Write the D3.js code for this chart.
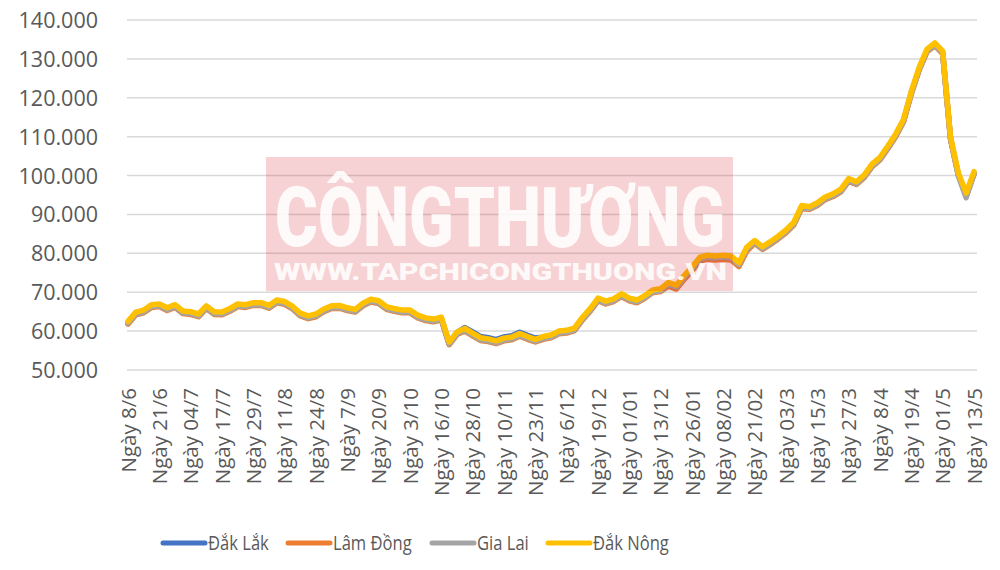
<!DOCTYPE html>
<html>
<head>
<meta charset="utf-8">
<script src="https://cdn.jsdelivr.net/npm/d3@7/dist/d3.min.js"></script>
<style>
  html, body { margin: 0; padding: 0; background: #fff; }
  svg { display: block; }
</style>
</head>
<body>
<svg id="chart" width="1000" height="570"></svg>
<script>
// ---- DATA (values in thousand VND / kg) ----
const xLabels = ["Ngày 8/6","Ngày 21/6","Ngày 04/7","Ngày 17/7","Ngày 29/7","Ngày 11/8","Ngày 24/8","Ngày 7/9","Ngày 20/9","Ngày 3/10","Ngày 16/10","Ngày 28/10","Ngày 10/11","Ngày 23/11","Ngày 6/12","Ngày 19/12","Ngày 01/01","Ngày 13/12","Ngày 26/01","Ngày 08/02","Ngày 21/02","Ngày 03/3","Ngày 15/3","Ngày 27/3","Ngày 8/4","Ngày 19/4","Ngày 01/5","Ngày 13/5"];
const yTicks = [50, 60, 70, 80, 90, 100, 110, 120, 130, 140];
const yTickLabels = ["50.000","60.000","70.000","80.000","90.000","100.000","110.000","120.000","130.000","140.000"];
const seriesNames = ["Đắk Lắk", "Lâm Đồng", "Gia Lai", "Đắk Nông"];

const dakLak = [
  62.1, 64.5, 65.0, 66.4, 66.6, 65.6, 66.4, 64.8, 64.6, 64.0,
  66.1, 64.6, 64.5, 65.4, 66.6, 66.4, 66.9, 66.9, 66.2, 67.6,
  67.2, 66.0, 64.2, 63.5, 64.0, 65.3, 66.1, 66.2, 65.6, 65.2,
  66.8, 67.8, 67.4, 65.9, 65.4, 65.0, 65.0, 63.7, 63.0, 62.7,
  63.2, 56.8, 59.6, 60.9, 59.8, 58.6, 58.3, 57.8, 58.5, 58.8,
  59.7, 58.9, 58.2, 58.4, 58.7, 59.6, 59.8, 60.4, 63.1, 65.4,
  68.1, 67.3, 67.9, 69.2, 68.1, 67.6, 68.8, 70.2, 70.5, 72.1,
  71.4, 73.9, 76.1, 78.6, 79.1, 78.9, 79.1, 78.9, 77.2, 81.2,
  82.9, 81.3, 82.6, 84.0, 85.6, 87.6, 91.9, 91.6, 92.6, 94.1,
  94.9, 96.1, 98.8, 98.0, 99.8, 102.6, 104.3, 107.2, 110.3, 114.1,
  121.3, 127.4, 132.1, 133.7, 131.6, 109.6, 100.3, 94.9, 100.6
];
const lamDong = [
  61.8, 64.2, 64.7, 66.1, 66.3, 65.3, 66.1, 64.5, 64.3, 63.7,
  65.8, 64.3, 64.2, 65.1, 66.3, 66.1, 66.6, 66.6, 65.9, 67.3,
  66.9, 65.7, 63.9, 63.2, 63.7, 65.0, 65.8, 65.9, 65.3, 64.9,
  66.5, 67.5, 67.1, 65.6, 65.1, 64.7, 64.7, 63.4, 62.7, 62.4,
  62.9, 56.5, 59.1, 60.0, 58.8, 57.6, 57.3, 56.8, 57.5, 57.8,
  58.7, 57.9, 57.2, 57.9, 58.3, 59.3, 59.5, 60.1, 62.8, 65.1,
  67.8, 67.0, 67.6, 68.9, 67.8, 67.3, 68.5, 69.9, 70.2, 71.6,
  70.8, 73.3, 75.5, 78.0, 78.5, 78.3, 78.5, 78.3, 76.6, 80.6,
  82.6, 81.0, 82.3, 83.7, 85.3, 87.3, 91.6, 91.3, 92.3, 93.8,
  94.6, 95.8, 98.5, 97.7, 99.5, 102.3, 104.0, 106.9, 110.0, 113.8,
  121.0, 127.1, 131.8, 133.4, 131.3, 109.3, 100.1, 94.8, 100.3
];
const giaLai = [
  62.0, 64.4, 64.9, 66.3, 66.5, 65.5, 66.3, 64.7, 64.5, 63.9,
  66.0, 64.5, 64.4, 65.3, 66.5, 66.3, 66.8, 66.8, 66.1, 67.5,
  67.1, 65.9, 64.1, 63.4, 63.9, 65.2, 66.0, 66.1, 65.5, 65.1,
  66.7, 67.7, 67.3, 65.8, 65.3, 64.9, 64.9, 63.6, 62.9, 62.6,
  63.1, 56.7, 59.3, 60.2, 59.0, 57.8, 57.5, 57.0, 57.7, 58.0,
  58.9, 58.1, 57.4, 58.1, 58.5, 59.5, 59.7, 60.3, 63.0, 65.3,
  68.0, 67.2, 67.8, 69.1, 68.0, 67.5, 68.7, 70.1, 70.4, 72.0,
  71.3, 73.8, 76.0, 78.5, 79.0, 78.8, 79.0, 78.8, 77.1, 81.1,
  82.8, 81.2, 82.5, 83.9, 85.5, 87.5, 91.8, 91.5, 92.5, 94.0,
  94.8, 96.0, 98.7, 97.9, 99.7, 102.5, 104.2, 107.1, 110.2, 114.0,
  121.2, 127.3, 132.0, 133.6, 131.5, 109.5, 99.9, 94.3, 100.4
];
const dakNong = [
  62.5, 64.9, 65.4, 66.8, 67.0, 66.0, 66.8, 65.2, 65.0, 64.4,
  66.5, 65.0, 64.9, 65.8, 67.0, 66.8, 67.3, 67.3, 66.6, 68.0,
  67.6, 66.4, 64.6, 63.9, 64.4, 65.7, 66.5, 66.6, 66.0, 65.6,
  67.2, 68.2, 67.8, 66.3, 65.8, 65.4, 65.4, 64.1, 63.4, 63.1,
  63.6, 57.2, 59.8, 60.7, 59.5, 58.3, 58.0, 57.5, 58.2, 58.5,
  59.4, 58.6, 57.9, 58.6, 59.0, 60.0, 60.2, 60.8, 63.5, 65.8,
  68.5, 67.7, 68.3, 69.6, 68.5, 68.0, 69.2, 70.6, 70.9, 72.5,
  71.8, 74.3, 76.5, 79.0, 79.5, 79.3, 79.5, 79.3, 77.6, 81.6,
  83.3, 81.7, 83.0, 84.4, 86.0, 88.0, 92.3, 92.0, 93.0, 94.5,
  95.3, 96.5, 99.2, 98.4, 100.2, 103.0, 104.7, 107.6, 110.7, 114.5,
  121.7, 127.8, 132.5, 134.1, 132.0, 110.0, 100.7, 95.5, 101.0
];
const colors = ["#4472C4", "#ED7D31", "#A5A5A5", "#FFC000"];

// ---- CHART ----
const svg = d3.select("#chart");
const font = "'Open Sans', 'Noto Sans', sans-serif";
const textColor = "#595959";

const nPts = dakNong.length;
const labelEvery = (nPts - 1) / (xLabels.length - 1);
const x = d3.scalePoint().domain(d3.range(nPts)).range([128, 974]);
const y = d3.scaleLinear().domain([50, 140]).range([370, 20]);

// gridlines
svg.append("g").selectAll("line").data(yTicks).join("line")
  .attr("x1", 127).attr("x2", 977)
  .attr("y1", d => y(d)).attr("y2", d => y(d))
  .attr("stroke", "#D9D9D9").attr("stroke-width", 1.5);

// y axis
const yAxis = d3.axisLeft(y).tickValues(yTicks)
  .tickFormat((d, i) => yTickLabels[i]).tickSize(0).tickPadding(0);
const gy = svg.append("g").attr("transform", "translate(98,0)").call(yAxis);
gy.select(".domain").remove();
gy.selectAll("text").attr("font-family", font).attr("font-size", 21.5)
  .attr("fill", textColor).attr("dy", "0.35em");

// x axis (labels only)
const tickIdx = xLabels.map((d, i) => Math.round(i * labelEvery));
const xAxis = d3.axisBottom(x).tickValues(tickIdx)
  .tickFormat((d, i) => xLabels[i]).tickSize(0).tickPadding(0);
const gx = svg.append("g").attr("transform", "translate(0,388)").call(xAxis);
gx.select(".domain").remove();
gx.selectAll("text")
  .attr("font-family", font).attr("font-size", 20.5).attr("fill", textColor)
  .attr("text-anchor", "end").attr("transform", "rotate(-90)")
  .attr("x", 0).attr("y", 0).attr("dy", "0.35em");

// lines
const allSeries = [dakLak, lamDong, giaLai, dakNong];
const line = d3.line().x((d, i) => x(i)).y(d => y(d)).curve(d3.curveLinear);
svg.append("g").selectAll("path").data(allSeries).join("path")
  .attr("d", line)
  .attr("fill", "none")
  .attr("stroke", (d, i) => colors[i])
  .attr("stroke-width", 5.5)
  .attr("stroke-linejoin", "round")
  .attr("stroke-linecap", "round");

// legend
const legendX = [163, 288, 432, 548];
const lg = svg.append("g").selectAll("g").data(seriesNames).join("g")
  .attr("transform", (d, i) => `translate(${legendX[i]},543)`);
lg.append("line").attr("x1", 0).attr("x2", 42).attr("y1", 0).attr("y2", 0)
  .attr("stroke", (d, i) => colors[i]).attr("stroke-width", 5).attr("stroke-linecap", "round");
lg.append("text").attr("x", 45).attr("dy", "0.36em")
  .attr("font-family", font).attr("font-size", 19.5).attr("fill", textColor)
  .text(d => d)
  .each(function() {
    const w = this.getComputedTextLength();
    d3.select(this).attr("textLength", w * 0.85).attr("lengthAdjust", "spacingAndGlyphs");
  });

// watermark overlay
const wm = svg.append("g");
wm.append("rect").attr("x", 266).attr("y", 157).attr("width", 467).attr("height", 134)
  .attr("fill", "rgb(215,30,45)").attr("fill-opacity", 0.2);
wm.append("text").attr("x", 275).attr("y", 246)
  .attr("font-family", "Roboto, 'Open Sans', sans-serif").attr("font-weight", 900)
  .attr("font-size", 84).attr("fill", "#fff").attr("fill-opacity", 0.88)
  .attr("textLength", 450).attr("lengthAdjust", "spacingAndGlyphs")
  .text("CÔNGTHƯƠNG");
wm.append("text").attr("x", 274).attr("y", 280)
  .attr("font-family", "Roboto, 'Open Sans', sans-serif").attr("font-weight", 900)
  .attr("font-size", 24).attr("fill", "#fff").attr("fill-opacity", 0.88)
  .attr("textLength", 453).attr("lengthAdjust", "spacingAndGlyphs")
  .text("WWW.TAPCHICONGTHUONG.VN");
</script>
</body>
</html>
